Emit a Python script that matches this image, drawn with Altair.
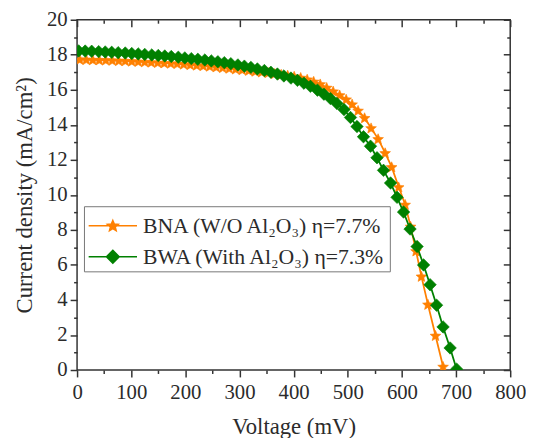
import math
import altair as alt
import pandas as pd

# ---------------- data ----------------
bna_voltage = [5, 17, 29, 41, 53, 65, 77, 89, 101, 113, 125, 137, 149, 161, 173, 185,
               197, 209, 221, 233, 245, 257, 269, 281, 293, 305, 317, 329, 341, 353,
               365, 377, 389, 401, 413, 425, 437, 449, 461, 473, 485, 497, 508, 519,
               531, 543, 556, 569, 581, 594, 606, 616, 626, 636, 648, 662, 676]
bna_current = [17.74, 17.73, 17.72, 17.71, 17.70, 17.69, 17.67, 17.66, 17.64, 17.62,
               17.60, 17.58, 17.56, 17.54, 17.52, 17.50, 17.47, 17.44, 17.41, 17.38,
               17.35, 17.31, 17.27, 17.23, 17.19, 17.15, 17.11, 17.06, 17.02, 16.98,
               16.93, 16.88, 16.83, 16.77, 16.70, 16.60, 16.48, 16.33, 16.13, 15.92,
               15.70, 15.46, 15.18, 14.82, 14.40, 13.82, 13.20, 12.40, 11.60, 10.45,
               9.45, 8.20, 6.80, 5.35, 3.75, 1.97, 0.20]

bwa_voltage = [3, 15, 27, 40, 52, 64, 76, 89, 101, 113, 125, 138, 150, 162, 174, 187,
               199, 211, 223, 236, 248, 260, 272, 284, 297, 309, 321, 333, 346, 358,
               370, 382, 395, 407, 419, 431, 444, 456, 468, 480, 493, 505, 517, 529,
               542, 554, 566, 579, 591, 603, 615, 628, 640, 652, 664, 676, 689, 701]
bwa_current = [18.22, 18.21, 18.20, 18.18, 18.16, 18.14, 18.12, 18.10, 18.07, 18.05,
               18.02, 17.99, 17.96, 17.93, 17.90, 17.86, 17.82, 17.78, 17.74, 17.70,
               17.65, 17.60, 17.55, 17.49, 17.42, 17.35, 17.28, 17.19, 17.10, 17.00,
               16.90, 16.79, 16.67, 16.54, 16.38, 16.20, 15.98, 15.75, 15.50, 15.22,
               14.87, 14.42, 13.90, 13.32, 12.78, 12.12, 11.40, 10.68, 9.86, 9.02,
               8.05, 7.05, 6.00, 4.87, 3.70, 2.46, 1.26, 0.05]

series_names = ["BNA (W/O Al₂O₃) η=7.7%", "BWA (With Al₂O₃) η=7.3%"]

x_major = [0, 100, 200, 300, 400, 500, 600, 700, 800]
x_minor = [50, 150, 250, 350, 450, 550, 650, 750]
y_major = [0, 2, 4, 6, 8, 10, 12, 14, 16, 18, 20]
y_minor = [1, 3, 5, 7, 9, 11, 13, 15, 17, 19]

# ---------------- style ----------------
ORANGE = "#ff8000"
GREEN = "#008000"
FRAME = "#333333"
TXT = "#2b2b2b"
FONT = "Liberation Serif"


def star_path(cx, cy, r, inner=0.45):
    pts = []
    for i in range(10):
        ang = math.radians(-90 + 36 * i)
        rr = r if i % 2 == 0 else r * inner
        pts.append((cx + rr * math.cos(ang), cy + rr * math.sin(ang)))
    return "M" + " L".join(f"{x:.3f},{y:.3f}" for x, y in pts) + " Z"


STAR = star_path(0, 0.095, 1.0)
LEG_LINE = "M-1,0 L2.267,0 "
LEG_STAR = LEG_LINE + star_path(0.633, 0.03, 0.387)
LEG_DIAMOND = LEG_LINE + "M0.633,-0.433 L1.066,0 L0.633,0.433 L0.2,0 Z"

df_bna = pd.DataFrame({"V": bna_voltage, "J": bna_current, "series": series_names[0]})
df_bwa = pd.DataFrame({"V": bwa_voltage, "J": bwa_current, "series": series_names[1]})
df_all = pd.concat([df_bna, df_bwa], ignore_index=True)

xscale = alt.Scale(domain=[0, 800], nice=False, zero=False)
yscale = alt.Scale(domain=[0, 20], nice=False, zero=False)

tick_common = dict(tickColor=FRAME, tickWidth=1.5, domain=False, grid=False)

ax_bottom = alt.Axis(orient="bottom", values=x_major, tickSize=7, labelFont=FONT,
                     labelFontSize=21, labelColor=TXT, labelPadding=5, labelFlush=False,
                     title="Voltage (mV)", titleFont=FONT, titleFontSize=23,
                     titleFontWeight="normal", titleColor=TXT, titlePadding=13,
                     **tick_common)
ax_bottom_minor = alt.Axis(orient="bottom", values=x_minor, tickSize=3.5, labels=False,
                           title=None, **tick_common)
ax_top = alt.Axis(orient="top", values=x_major, tickSize=7, offset=-7, labels=False,
                  title=None, **tick_common)
ax_top_minor = alt.Axis(orient="top", values=x_minor, tickSize=3.5, offset=-3.5,
                        labels=False, title=None, **tick_common)

ax_left = alt.Axis(orient="left", values=y_major, tickSize=7, labelFont=FONT,
                   labelFontSize=21, labelColor=TXT, labelPadding=3, labelFlush=False,
                   title="Current density (mA/cm²)", titleFont=FONT, titleFontSize=23,
                   titleFontWeight="normal", titleColor=TXT, titlePadding=10,
                   **tick_common)
ax_left_minor = alt.Axis(orient="left", values=y_minor, tickSize=3.5, labels=False,
                         title=None, **tick_common)
ax_right = alt.Axis(orient="right", values=y_major, tickSize=7, offset=-7, labels=False,
                    title=None, **tick_common)
ax_right_minor = alt.Axis(orient="right", values=y_minor, tickSize=3.5, offset=-3.5,
                          labels=False, title=None, **tick_common)


def xenc(axis):
    return alt.X("V:Q", scale=xscale, axis=axis)


def yenc(axis):
    return alt.Y("J:Q", scale=yscale, axis=axis)


bna_line = alt.Chart(df_bna).mark_line(color=ORANGE, strokeWidth=1.8).encode(
    x=xenc(ax_bottom), y=yenc(ax_left))
bna_pts = alt.Chart(df_bna).mark_point(shape=STAR, filled=True, size=130, fill=ORANGE,
                                       stroke=ORANGE, strokeWidth=0.6, opacity=1,
                                       clip=True).encode(
    x=xenc(ax_bottom_minor), y=yenc(ax_left_minor))
bwa_line = alt.Chart(df_bwa).mark_line(color=GREEN, strokeWidth=1.8).encode(
    x=xenc(ax_top), y=yenc(ax_right))
bwa_pts = alt.Chart(df_bwa).mark_point(shape="diamond", filled=True, size=160, fill=GREEN,
                                       stroke=GREEN, strokeWidth=0.6, opacity=1,
                                       clip=True).encode(
    x=xenc(ax_top_minor), y=yenc(ax_right_minor))

leg = alt.Legend(title=None, orient="none", legendX=7, legendY=189, padding=3.75,
                 strokeColor="#777777", fillColor="white", labelFont=FONT,
                 labelFontSize=22, labelColor=TXT, labelLimit=0, labelOffset=24,
                 symbolSize=900, symbolStrokeWidth=1.5, symbolOpacity=1, rowPadding=4.5)

legend_layer = alt.Chart(df_all).mark_point(filled=True, opacity=0, size=900).encode(
    x=xenc(None), y=yenc(None),
    fill=alt.Fill("series:N", scale=alt.Scale(domain=series_names, range=[ORANGE, GREEN]),
                  legend=leg),
    stroke=alt.Stroke("series:N", scale=alt.Scale(domain=series_names, range=[ORANGE, GREEN]),
                      legend=leg),
    shape=alt.Shape("series:N", scale=alt.Scale(domain=series_names,
                                                range=[LEG_STAR, LEG_DIAMOND]),
                    legend=leg),
)

chart = alt.layer(bna_line, bna_pts, bwa_line, bwa_pts, legend_layer).resolve_axis(
    x="independent", y="independent"
).properties(
    width=439, height=355,
    padding={"left": 70, "top": 9, "right": 16, "bottom": 66},
    autosize=alt.AutoSizeParams(type="none"),
    background="white",
).configure_view(stroke=FRAME, strokeWidth=1.5)

chart.save("out.html", embed_options={"renderer": "svg", "actions": False})
